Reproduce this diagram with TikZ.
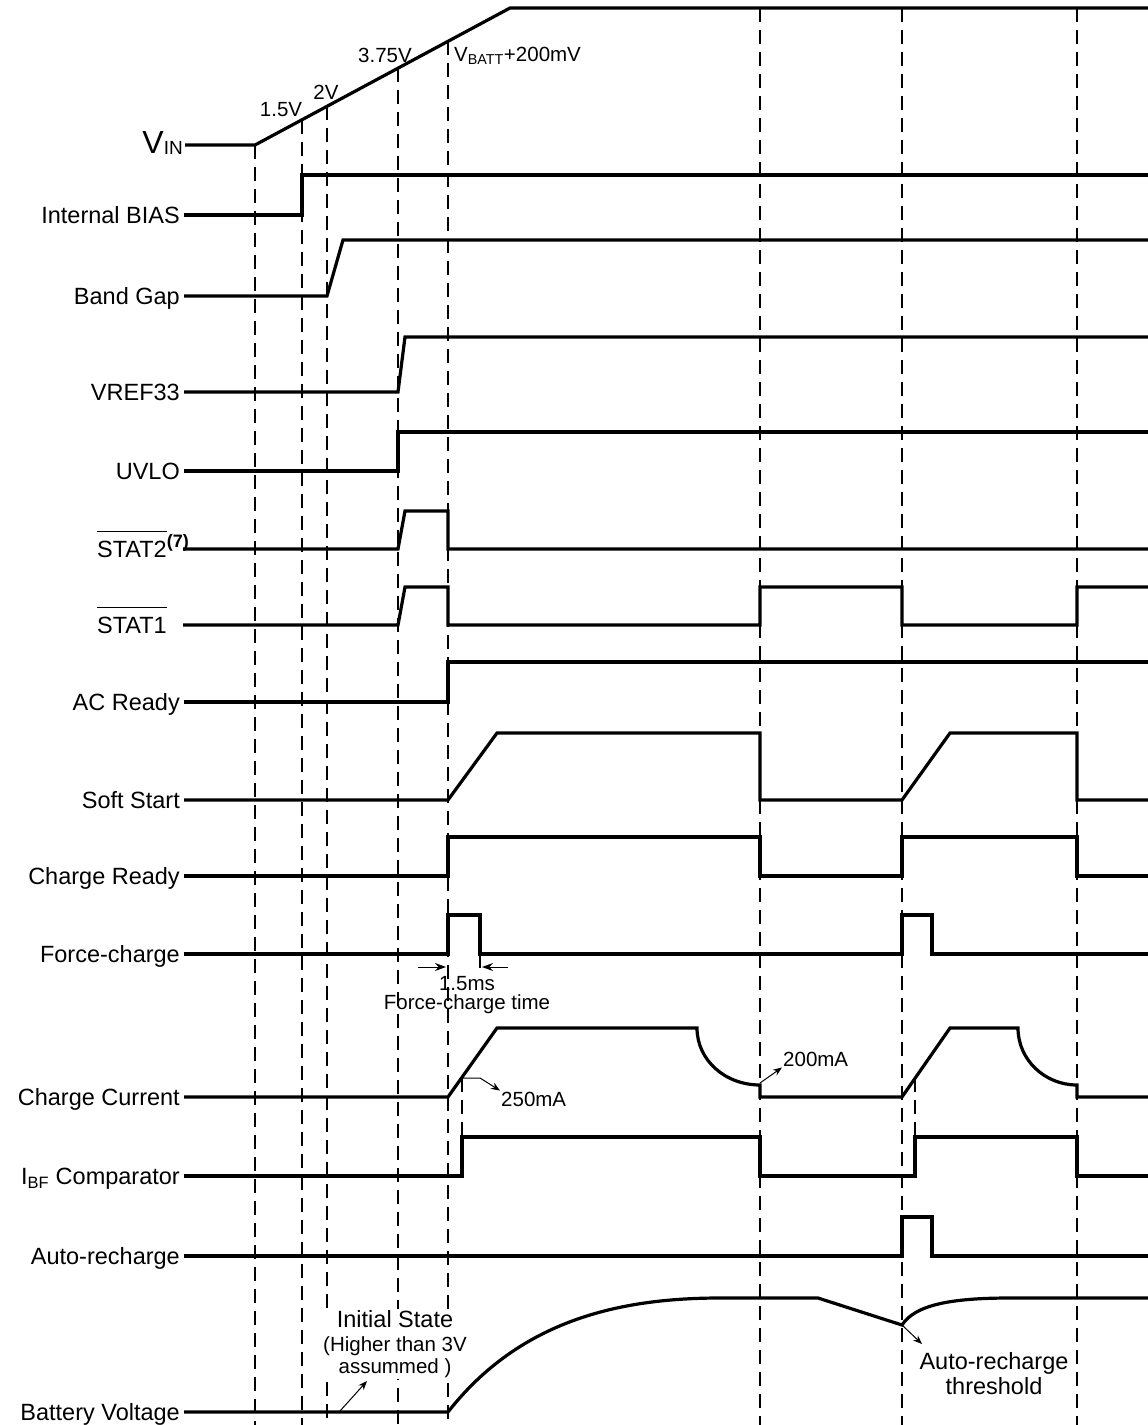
\documentclass[tikz,border=0pt]{standalone}
\usepackage{fontspec}
\setmainfont{Liberation Sans}
\usetikzlibrary{arrows.meta}

\begin{document}
\begin{tikzpicture}[x=1pt, y=-1pt, >={Stealth[length=9pt,width=7pt]},
  wave/.style={line width=3.2pt},
  guide/.style={line width=1.6pt, dash pattern=on 14pt off 8pt},
  lbl/.style={anchor=east, inner xsep=4pt, inner ysep=0pt, text height=17pt, text depth=0pt,
    font=\fontsize{23.5}{28}\selectfont},
  note/.style={inner sep=1pt, fill=white, font=\fontsize{20.5}{22}\selectfont},
  bar/.style={line width=1.6pt},
  pointer/.style={->, line width=1pt}]
  \useasboundingbox (0,0) rectangle (1148,1425);

  % time marks
  \foreach \x/\y in {255/145, 302/120, 327/106, 398/68, 448/41, 760/8, 902/8, 1077/8}
    \draw[guide] (\x,\y) -- (\x,1425);
  \draw[guide] (462,1078) -- (462,1176);
  \draw[guide] (915,1078) -- (915,1137);
  \draw[guide] (480,954) -- (480,976);

  % signal names
  \node[lbl, inner xsep=2pt, font=\fontsize{32}{36}\selectfont] (vin) at (185,145)
    {V\raisebox{-1pt}{\fontsize{19}{20}\selectfont IN}};
  \node[lbl] (bias) at (184,215) {Internal BIAS};
  \node[lbl] (bg) at (184,296) {Band Gap};
  \node[lbl] (vref) at (184,392) {VREF33};
  \node[lbl] (uvlo) at (184,471) {UVLO};
  \node[lbl] (stat2) at (171,549)
    {STAT2\rlap{\raisebox{10pt}{\fontsize{18}{18}\selectfont\bfseries (7)}}};
  \node[lbl] (stat1) at (171,625) {STAT1};
  \node[lbl] (acr) at (184,702) {AC Ready};
  \node[lbl] (ss) at (184,800) {Soft Start};
  \node[lbl] (crdy) at (184,876) {Charge Ready};
  \node[lbl] (fc) at (184,954) {Force-charge};
  \node[lbl] (ichg) at (184,1097) {Charge Current};
  \node[lbl] (ibf) at (184,1176) {I\textsubscript{BF} Comparator};
  \node[lbl] (arc) at (184,1256) {Auto-recharge};
  \node[lbl] (vbat) at (184,1412) {Battery Voltage};

  % active low bars
  \draw[bar] ([xshift=4pt, yshift=9pt]stat2.north west) -- ([xshift=-4pt, yshift=9pt]stat2.north east);
  \draw[bar] ([xshift=4pt, yshift=9pt]stat1.north west) -- ([xshift=-4pt, yshift=9pt]stat1.north east);

  % waveforms
  \draw[wave] (vin.east) -- (255,145) -- (510,8) -- (1148,8);
  \draw[wave] (bias.east) -- (302,215) -- (302,175) -- (1148,175);
  \draw[wave] (bg.east) -- (327,296) -- (343,240) -- (1148,240);
  \draw[wave] (vref.east) -- (398,392) -- (405,337) -- (1148,337);
  \draw[wave] (uvlo.east) -- (398,471) -- (398,432) -- (1148,432);
  \draw[wave] (stat2.east) ++(12,0) -- (398,549) -- (405,511) -- (448,511)
    -- (448,549) -- (1148,549);
  \draw[wave] (stat1.east) ++(12,0) -- (398,625) -- (405,587) -- (448,587)
    -- (448,625) -- (760,625) -- (760,587) -- (902,587) -- (902,625)
    -- (1077,625) -- (1077,587) -- (1148,587);
  \draw[wave] (acr.east) -- (448,702) -- (448,662) -- (1148,662);
  \draw[wave] (ss.east) -- (448,800) -- (497,733) -- (760,733) -- (760,800)
    -- (902,800) -- (950,733) -- (1077,733) -- (1077,800) -- (1148,800);
  \draw[wave] (crdy.east) -- (448,876) -- (448,837) -- (760,837) -- (760,876)
    -- (902,876) -- (902,837) -- (1077,837) -- (1077,876) -- (1148,876);
  \draw[wave] (fc.east) -- (448,954) -- (448,915) -- (480,915) -- (480,954)
    -- (902,954) -- (902,915) -- (932,915) -- (932,954) -- (1148,954);
  \draw[wave] (ichg.east) -- (448,1097) -- (497,1028) -- (697,1028)
    .. controls (697,1060) and (725,1085) .. (760,1085) -- (760,1097)
    -- (902,1097) -- (950,1028) -- (1018,1028)
    .. controls (1018,1060) and (1045,1085) .. (1077,1085) -- (1077,1097)
    -- (1148,1097);
  \draw[wave] (ibf.east) -- (462,1176) -- (462,1137) -- (760,1137) -- (760,1176)
    -- (915,1176) -- (915,1137) -- (1077,1137) -- (1077,1176) -- (1148,1176);
  \draw[wave] (arc.east) -- (902,1256) -- (902,1217) -- (932,1217) -- (932,1256)
    -- (1148,1256);
  \draw[wave] (vbat.east) -- (448,1412) .. controls (520,1320) and (620,1298) .. (720,1298)
    -- (818,1298) -- (902,1325) .. controls (915,1305) and (950,1298) .. (1010,1298)
    -- (1148,1298);

  % thresholds on VIN
  \node[note, fill=none] (v15) at (281,110) {1.5V};
  \node[note, fill=none] (v2) at (326,92) {2V};
  \node[note, fill=none] (v375) at (385,55) {3.75V};
  \node[note, fill=none, anchor=west] (vbatt) at (453,56) {V\textsubscript{BATT}+200mV};

  % force-charge time
  \node[note, fill=none, align=center, anchor=north, font=\fontsize{20.5}{19.5}\selectfont]
    (fct) at (467,975) {1.5ms\\Force-charge time};
  \coordinate (fcl) at (418,967);
  \coordinate (fcr) at (508,967);
  \draw[pointer, >={Stealth[length=11pt,width=8pt]}] (fcl) -- (446,967);
  \draw[pointer, >={Stealth[length=11pt,width=8pt]}] (fcr) -- (482,967);

  % current levels
  \node[note, fill=none, anchor=west] (i250) at (500,1099) {250mA};
  \node[note, fill=none, anchor=west] (i200) at (782,1059) {200mA};
  \coordinate (r250) at (462,1078);
  \coordinate (r200) at (760,1083);
  \draw[pointer] (r250) -- (480,1078) -- (i250.north west);
  \draw[pointer] (r200) -- (i200.south west);

  % battery notes
  \node[note, align=center] (init) at (395,1344)
    {{\fontsize{23.5}{28}\selectfont Initial State}\\[2pt](Higher than 3V\\assummed )};
  \coordinate (bat0) at (340,1411);
  \draw[pointer] (bat0) -- (367,1381);
  \node[note, align=center, anchor=north, font=\fontsize{23.5}{25}\selectfont]
    (thr) at (994,1351) {Auto-recharge\\threshold};
  \coordinate (vthr) at (902,1325);
  \draw[pointer] (vthr) -- (922,1344);
\end{tikzpicture}
\end{document}
